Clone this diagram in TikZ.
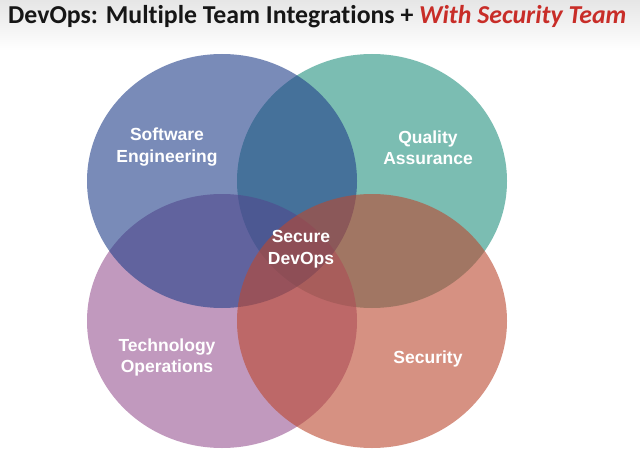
\documentclass[tikz,border=0pt]{standalone}
\usepackage{fontspec}
\setmainfont{Liberation Sans}
\newfontfamily\titlefont[Ligatures={NoCommon}]{Carlito}
\usetikzlibrary{shapes.geometric}
\definecolor{cA}{RGB}{33,63,138}
\definecolor{cB}{RGB}{35,145,127}
\definecolor{cC}{RGB}{153,85,147}
\definecolor{cD}{RGB}{187,72,47}
\definecolor{titlegray}{RGB}{22,22,22}
\definecolor{titlered}{RGB}{200,45,40}
\begin{document}
\begin{tikzpicture}[x=1pt,y=-1pt,
  venn/.style={ellipse, minimum width=270pt, minimum height=254pt, inner sep=0pt, fill opacity=0.6},
  lbl/.style={text=white, font=\fontsize{17.5}{21.5}\selectfont\bfseries, align=center}]
\useasboundingbox (0,0) rectangle (640,468);
\fill[white] (0,0) rectangle (640,468);
\shade[top color=black!10, bottom color=white] (0,0) rectangle (640,50);
\node[venn, fill=cB] (qa) at (372,181) {};
\node[venn, fill=cC] (ops) at (222,321) {};
\node[venn, fill=cA] (se) at (222,181) {};
\node[venn, fill=cD] (sec) at (372,321) {};
\node[lbl] (selbl) at (167,147) {Software\\Engineering};
\node[lbl] (qalbl) at (428,147.5) {Quality\\Assurance};
\node[lbl] (opslbl) at (167,357.5) {Technology\\Operations};
\node[lbl] (seclbl) at (428,359) {Security};
\node[lbl] (center) at (301,249) {Secure\\DevOps};
\node[anchor=base west, inner sep=0pt, text=titlegray, font=\titlefont\fontsize{25.8}{30}\selectfont\bfseries] (title) at (8,24) {DevOps: Multiple Team Integrations + \textcolor{titlered}{\itshape With Security Team}};
\end{tikzpicture}
\end{document}
